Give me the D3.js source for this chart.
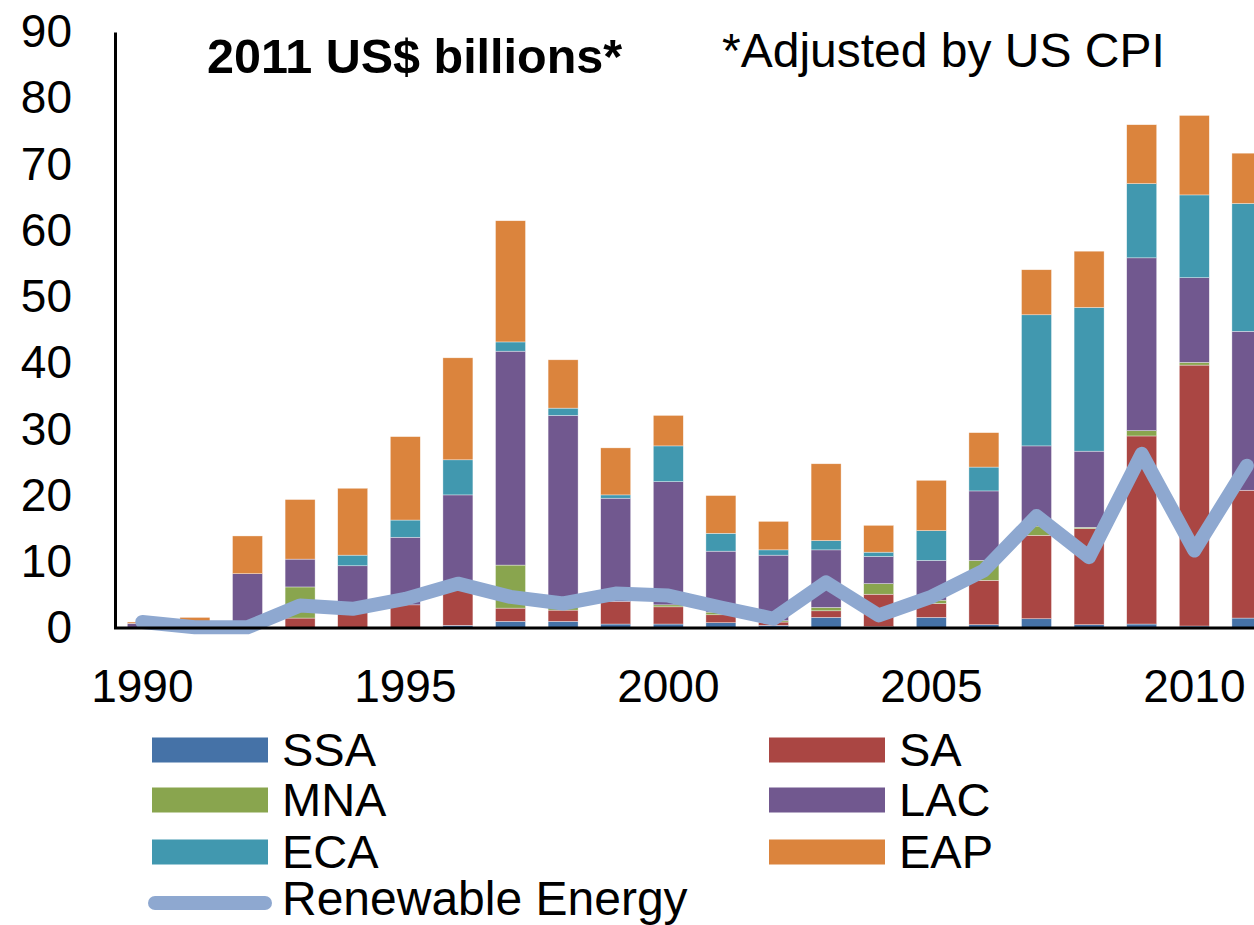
<!DOCTYPE html>
<html>
<head>
<meta charset="utf-8">
<script src="https://cdn.jsdelivr.net/npm/d3@7"></script>
<style>
  html, body { margin: 0; padding: 0; background: #fff; }
  svg { display: block; font-family: "Liberation Sans", Arial, sans-serif; }
</style>
</head>
<body>
<svg id="chart" width="1254" height="925"></svg>
<script>
const years = [1990,1991,1992,1993,1994,1995,1996,1997,1998,1999,2000,2001,2002,2003,2004,2005,2006,2007,2008,2009,2010,2011];
const SSA = [0,0,0,0,0,0,0.4,1.0,1.0,0.6,0.6,0.8,0.4,1.6,0.2,1.6,0.5,1.4,0.5,0.6,0.3,1.5];
const SA  = [0,0,0,1.5,2.4,3.5,5.3,2.0,1.7,3.4,2.6,1.2,0.5,1.0,4.9,2.1,6.7,12.6,14.5,28.4,39.4,19.3];
const MNA = [0,0,0,4.7,0,0,0,6.5,1.0,0,0.3,0.4,0.2,0.5,1.6,0.5,3.0,1.4,0.2,0.8,0.4,0];
const LAC = [0.7,0,8.2,4.2,7.0,10.2,14.4,32.3,28.4,15.6,18.6,9.2,9.9,8.7,4.1,6.0,10.5,12.1,11.5,26.1,12.8,24.0];
const ECA = [0,0,0,0,1.6,2.6,5.3,1.4,1.1,0.5,5.4,2.7,0.8,1.4,0.65,4.5,3.6,19.8,21.7,11.2,12.5,19.3];
const EAP = [0.2,1.6,5.7,9.0,10.1,12.6,15.4,18.3,7.3,7.1,4.6,5.7,4.3,11.6,4.05,7.6,5.2,6.8,8.5,8.9,12.0,7.6];
const renewable = [0.9,0.1,0.1,3.4,2.9,4.4,6.7,4.7,3.7,5.2,4.9,3.1,1.4,6.9,1.9,4.7,8.7,16.9,10.7,26.3,11.7,24.5];

const seriesNames = ["SSA","SA","MNA","LAC","ECA","EAP"];
const seriesColors = ["#4572A7","#AA4643","#89A54E","#71588F","#4198AF","#DB843D"];
const lineName = "Renewable Energy";
const lineColor = "#8EA8D0";
const yTicks = [0,10,20,30,40,50,60,70,80,90];
const xTickYears = [1990,1995,2000,2005,2010];
const titleText = "2011 US$ billions*";
const noteText = "*Adjusted by US CPI";

const svg = d3.select("#chart");
const FONT = 46;

const table = years.map((yr, i) => ({
  year: yr, SSA: SSA[i], SA: SA[i], MNA: MNA[i], LAC: LAC[i], ECA: ECA[i], EAP: EAP[i]
}));
const stacked = d3.stack().keys(seriesNames)(table);

const x = d3.scaleBand().domain(years).range([116, 116 + 22 * 52.6]).paddingInner(0.43).paddingOuter(0.215);
const y = d3.scaleLinear().domain([0, 90]).range([628, 32]);
const color = d3.scaleOrdinal().domain(seriesNames).range(seriesColors);

// bars
svg.append("g").selectAll("g").data(stacked).join("g")
  .attr("fill", d => color(d.key))
  .selectAll("rect").data(d => d).join("rect")
  .attr("x", d => x(d.data.year))
  .attr("width", x.bandwidth())
  .attr("y", d => y(d[1]))
  .attr("height", d => Math.max(0, y(d[0]) - y(d[1])))
  .attr("stroke", "#fff").attr("stroke-width", 0.6).attr("stroke-opacity", 0.6);

// renewable line
const line = d3.line()
  .x((d, i) => x(years[i]) + x.bandwidth() / 2)
  .y(d => y(d));
svg.append("path").datum(renewable)
  .attr("d", line)
  .attr("fill", "none")
  .attr("stroke", lineColor)
  .attr("stroke-width", 14)
  .attr("stroke-linejoin", "round")
  .attr("stroke-linecap", "round");

// y axis
const yAxis = svg.append("g").attr("transform", "translate(115,0)")
  .call(d3.axisLeft(y).tickValues(yTicks).tickSize(0).tickSizeOuter(0).tickPadding(43));
yAxis.select(".domain").attr("stroke", "#000").attr("stroke-width", 3);
yAxis.selectAll("text").attr("font-size", FONT).attr("fill", "#000")
  .attr("font-family", "Liberation Sans, Arial, sans-serif");

// x axis
const xAxis = svg.append("g").attr("transform", "translate(0,628)")
  .call(d3.axisBottom(x).tickValues(xTickYears).tickSize(0).tickSizeOuter(0).tickPadding(41));
xAxis.select(".domain").attr("stroke", "#000").attr("stroke-width", 3)
  .attr("d", "M114," + 0 + "H1273");
xAxis.selectAll("text").attr("font-size", FONT).attr("fill", "#000")
  .attr("font-family", "Liberation Sans, Arial, sans-serif");

// titles
svg.append("text").attr("x", 207).attr("y", 73)
  .attr("font-size", 48.5).attr("font-weight", "bold").attr("fill", "#000")
  .text(titleText);
svg.append("text").attr("x", 722).attr("y", 67)
  .attr("font-size", 48).attr("fill", "#000")
  .text(noteText);

// legend
const legendItems = [
  {name: "SSA", col: 0, row: 0},
  {name: "MNA", col: 0, row: 1},
  {name: "ECA", col: 0, row: 2},
  {name: "SA", col: 1, row: 0},
  {name: "LAC", col: 1, row: 1},
  {name: "EAP", col: 1, row: 2}
];
const colX = [152, 769];
const rowY = [750, 800, 852, 903];
const lg = svg.append("g");
legendItems.forEach(it => {
  lg.append("rect")
    .attr("x", colX[it.col]).attr("y", rowY[it.row] - 12.5)
    .attr("width", 116).attr("height", 25)
    .attr("fill", color(it.name));
  lg.append("text")
    .attr("x", colX[it.col] + 130).attr("y", rowY[it.row] + 16)
    .attr("font-size", 47).attr("fill", "#000")
    .text(it.name);
});
lg.append("line")
  .attr("x1", 155).attr("x2", 265)
  .attr("y1", rowY[3]).attr("y2", rowY[3])
  .attr("stroke", lineColor).attr("stroke-width", 14).attr("stroke-linecap", "round");
lg.append("text")
  .attr("x", 282).attr("y", rowY[3] + 12)
  .attr("font-size", 48).attr("fill", "#000")
  .text(lineName);
</script>
</body>
</html>
